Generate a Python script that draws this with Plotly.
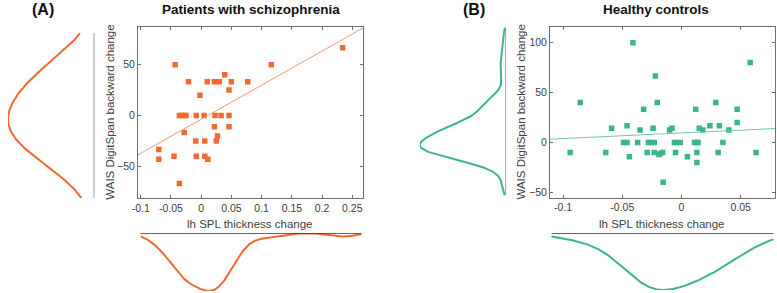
import numpy as np
import plotly.graph_objects as go

# ---------------- data ----------------
# Panel A: patients with schizophrenia
xA = [-0.043, 0.116, 0.234, -0.021, 0.010, 0.022, 0.030, 0.050, 0.077, 0.039,
      0.046, -0.002, -0.036, -0.032, -0.028, -0.025, -0.008, 0.005, 0.023, 0.033,
      0.046, 0.022, 0.046, -0.028, 0.027, -0.009, 0.006, 0.025, -0.070, -0.070,
      -0.045, -0.008, 0.006, 0.011, -0.036]
yA = [50, 50, 66.7, 33.3, 33.3, 33.3, 33.3, 33.3, 33.3, 40,
      25, 20, 0, 0, 0, 0, 0, 0, 0, 0,
      0, -11.1, -11.1, -16.7, -20, -25, -25, -25, -33.3, -42.9,
      -40, -40, -40, -42.9, -66.7]

# Panel B: healthy controls
xB = [-0.094, -0.0855, -0.064, -0.059, -0.046, -0.049, -0.046, -0.044, -0.041, -0.037,
      -0.035, -0.032, -0.029, -0.028, -0.026, -0.024, -0.023, -0.023, -0.022, -0.0205,
      -0.019, -0.018, -0.016, -0.0155, -0.010, -0.008, -0.006, -0.004, -0.001, -0.005,
      0.005, 0.012, 0.011, 0.013, 0.014, 0.013, 0.013, 0.015, 0.018, 0.024,
      0.029, 0.031, 0.032, 0.035, 0.040, 0.047, 0.047, 0.058, 0.063]
yB = [-10, 40, -10, 14.3, 16.7, 0, 0, -14.3, 100, 0,
      12.5, 33.3, -10, 0, 0, 14.3, 0, -10, 66.7, 40,
      -12, -11, -10, -40, 12.5, 14.3, 0, 0, 0, -10,
      -14.3, 33.3, 0, 0, 0, -10, -20, 14.3, 12.5, 16.7,
      40, -10, 16.7, 0, 12.5, 33.3, 20, 80, -10]

xtickA = [-0.1, -0.05, 0, 0.05, 0.1, 0.15, 0.2, 0.25]
xtickA_text = ["-0.1", "-0.05", "0", "0.05", "0.1", "0.15", "0.2", "0.25"]
ytickA = [-50, 0, 50]
xtickB = [-0.1, -0.05, 0, 0.05]
xtickB_text = ["-0.1", "-0.05", "0", "0.05"]
ytickB = [-50, 0, 50, 100]

title_A = "Patients with schizophrenia"
title_B = "Healthy controls"
xlabel = "lh SPL thickness change"
ylabel = "WAIS DigitSpan backward change"

# ---------------- style ----------------
ORANGE = "#F26A30"
ORANGE_LINE = "#F49A70"
GREEN = "#3BB58A"
GREEN_LINE = "#70C9A6"
AXCOL = "#6e6e6e"
TXT = "#404040"
FONT = "Liberation Sans, Arial, sans-serif"
W, H = 777, 293


def kde(data, grid, h):
    d = np.asarray(data, float)
    g = np.asarray(grid, float)
    z = (g[:, None] - d[None, :]) / h
    return np.exp(-0.5 * z ** 2).sum(axis=1) / (len(d) * h * np.sqrt(2 * np.pi))


def px_x(a, b):
    return [a / W, b / W]


def px_y(top, bottom):
    return [1 - bottom / H, 1 - top / H]


fig = go.Figure()

panels = [
    dict(x=xA, y=yA, col=ORANGE, lcol=ORANGE_LINE,
         sx=(133, 360), sy=(27, 198), xr=[-0.1045, 0.268], yr=[-81, 87],
         ly=(2, 89), by=(233, 291), bx=(135, 358),
         ygrid=(-81, 81), xgrid=(-0.1, 0.265), hy=26.0, hx=0.022,
         xt=xtickA, xtt=xtickA_text, yt=ytickA, ax=("x", "y"), al=("x2", "y2"), ab=("x3", "y3")),
    dict(x=xB, y=yB, col=GREEN, lcol=GREEN_LINE,
         sx=(548.3, 775), sy=(26.7, 197.7), xr=[-0.111, 0.079], yr=[-55.4, 116],
         ly=(417, 504), by=(233.3, 290), bx=(550, 773),
         ygrid=(-53, 115), xgrid=(-0.1098, 0.0776), hy=10.0, hx=0.02,
         xt=xtickB, xtt=xtickB_text, yt=ytickB, ax=("x4", "y4"), al=("x5", "y5"), ab=("x6", "y6")),
]

layout = {}
for p in panels:
    # scatter
    xs, ys = p["ax"]
    fig.add_trace(go.Scatter(x=p["x"], y=p["y"], mode="markers", xaxis=xs, yaxis=ys,
                             marker=dict(symbol="square", size=5.5, color=p["col"],
                                         line=dict(width=0)), showlegend=False))
    k, b0 = np.polyfit(p["x"], p["y"], 1)
    lx = np.array(p["xr"])
    fig.add_trace(go.Scatter(x=lx, y=k * lx + b0, mode="lines", xaxis=xs, yaxis=ys,
                             line=dict(color=p["lcol"], width=1), showlegend=False))
    xn = "xaxis" + xs[1:]
    yn = "yaxis" + ys[1:]
    common = dict(showline=True, mirror="ticks", linecolor=AXCOL, linewidth=1,
                  ticks="inside", ticklen=3, tickcolor=AXCOL, showgrid=False, zeroline=False,
                  tickfont=dict(size=10.5, color=TXT, family=FONT))
    layout[xn] = dict(domain=px_x(*p["sx"]), range=p["xr"], anchor=ys,
                      tickvals=p["xt"], ticktext=p["xtt"], **common)
    layout[yn] = dict(domain=px_y(*p["sy"]), range=p["yr"], anchor=xs,
                      tickvals=p["yt"], **common)

    hidden = dict(visible=False, showgrid=False, zeroline=False)

    # left (y) density: baseline at right edge, peak reaching left edge
    xl, yl = p["al"]
    yg = np.linspace(p["ygrid"][0], p["ygrid"][1], 300)
    dy = kde(p["y"], yg, p["hy"])
    fig.add_trace(go.Scatter(x=dy, y=yg, mode="lines", xaxis=xl, yaxis=yl, cliponaxis=False,
                             line=dict(color=p["col"], width=2), showlegend=False))
    fig.add_trace(go.Scatter(x=[0, 0], y=[yg[0], yg[-1]], mode="lines", xaxis=xl, yaxis=yl,
                             cliponaxis=False,
                             line=dict(color="#808080", width=1.5), showlegend=False))
    layout["xaxis" + xl[1:]] = dict(domain=px_x(*p["ly"]), range=[dy.max(), 0], anchor=yl, **hidden)
    layout["yaxis" + yl[1:]] = dict(domain=px_y(*p["sy"]), range=p["yr"], anchor=xl, **hidden)

    # bottom (x) density: baseline on top, trough at bottom
    xb, yb = p["ab"]
    xg = np.linspace(p["xgrid"][0], p["xgrid"][1], 300)
    dx = kde(p["x"], xg, p["hx"])
    fig.add_trace(go.Scatter(x=xg, y=dx, mode="lines", xaxis=xb, yaxis=yb, cliponaxis=False,
                             line=dict(color=p["col"], width=2), showlegend=False))
    fig.add_trace(go.Scatter(x=[xg[0], xg[-1]], y=[0, 0], mode="lines", xaxis=xb, yaxis=yb,
                             cliponaxis=False,
                             line=dict(color="#333333", width=1.5), showlegend=False))
    layout["xaxis" + xb[1:]] = dict(domain=px_x(*p["sx"]), range=p["xr"], anchor=yb, **hidden)
    layout["yaxis" + yb[1:]] = dict(domain=px_y(*p["by"]), range=[dx.max(), 0], anchor=xb, **hidden)

annotations = []


def ann(text, x, y, size, bold=False, angle=0, color=TXT):
    annotations.append(dict(text=("<b>%s</b>" % text) if bold else text,
                            x=x / W, y=1 - y / H, xref="paper", yref="paper",
                            showarrow=False, textangle=angle, xanchor="center", yanchor="middle",
                            font=dict(size=size, color=color, family=FONT)))


ann("(A)", 37, 10, 16, bold=True, color="#111111")
ann("(B)", 472, 10, 16, bold=True, color="#111111")
ann(title_A, 247, 9, 13.5, bold=True, color="#111111")
ann(title_B, 655, 9, 13.5, bold=True, color="#111111")
ann(xlabel, 246, 223.5, 11.5)
ann(xlabel, 661, 223.5, 11.5)
ann(ylabel, 104, 112.5, 11.5, angle=-90)
ann(ylabel, 518, 112.5, 11.5, angle=-90)

fig.update_layout(width=W, height=H, margin=dict(l=0, r=0, t=0, b=0),
                  paper_bgcolor="white", plot_bgcolor="white",
                  font=dict(family=FONT, color=TXT), annotations=annotations, **layout)

fig.write_html("out.html", config={"displayModeBar": False},
               post_script="document.body.style.margin='0';document.body.style.overflow='hidden';")
